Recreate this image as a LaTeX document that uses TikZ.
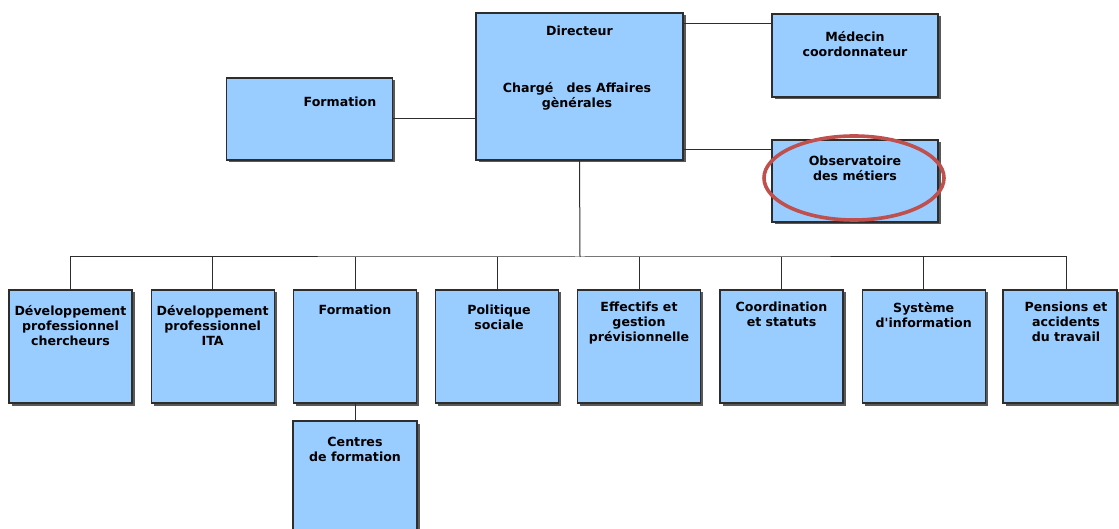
\documentclass[tikz,border=0pt]{standalone}
\usepackage{fontspec}
\setmainfont{DejaVu Sans}
\usetikzlibrary{shapes.geometric,shadows,calc}
\definecolor{boxfill}{RGB}{153,204,255}
\definecolor{boxline}{RGB}{45,45,45}
\definecolor{ringred}{RGB}{192,80,77}
\begin{document}
\begin{tikzpicture}[x=1pt,y=-1pt,
  orgbox/.style={draw=boxline, line width=1.3pt, fill=boxfill, rectangle, inner sep=0,
    drop shadow={shadow xshift=2.5pt, shadow yshift=-2.5pt, fill=black!65, opacity=1}},
  lowbox/.style={orgbox, minimum width=123pt, minimum height=113pt},
  txt/.style={font=\bfseries\fontsize{12.6}{15}\selectfont, align=center, inner sep=0, anchor=north, text=black},
  link/.style={draw=boxline, line width=1pt},
  ring/.style={draw=ringred, line width=3.6pt, ellipse, minimum width=180pt, minimum height=84pt, inner sep=0}]
\clip (0,0) rectangle (1119,529);
\fill[white] (0,0) rectangle (1119,529);

% top level
\node[orgbox, minimum width=207pt, minimum height=147pt] (dir) at (579.5,86.5) {};
\node[orgbox, minimum width=166pt, minimum height=82pt] (form) at (309.5,119) {};
\node[orgbox, minimum width=166pt, minimum height=83pt] (med) at (855,55.5) {};
\node[orgbox, minimum width=166pt, minimum height=82pt] (obs) at (855,181) {};

% bottom row
\node[lowbox] (b1) at (70.5,346.5) {};
\node[lowbox] (b2) at (212.7,346.5) {};
\node[lowbox] (b3) at (355,346.5) {};
\node[lowbox] (b4) at (497,346.5) {};
\node[lowbox] (b5) at (639,346.5) {};
\node[lowbox] (b6) at (781.5,346.5) {};
\node[lowbox] (b7) at (923.7,346.5) {};
\node[orgbox, minimum width=114pt, minimum height=113pt] (b8) at (1060,346.5) {};
\node[orgbox, minimum width=124pt, minimum height=130pt] (cen) at (355,486) {};

% connectors
\coordinate (bus) at (580,257);
\draw[link] ([yshift=-10pt]med.north west) -- ([yshift=-10pt]med.north west -| dir.east);
\draw[link] ([yshift=-10pt]obs.north west) -- ([yshift=-10pt]obs.north west -| dir.east);
\draw[link] (form.east) -- (form.east -| dir.west);
\draw[link] (dir.south) -- (bus);
\draw[link] (b1.north) |- (bus) -| (b8.north -| 1066,0);
\foreach \b in {b2,b3,b4,b5,b6,b7}{\draw[link] (\b.north) -- (\b.north |- bus);}
\draw[link] (b3.south) -- (cen.north);

% texts
\node[txt] (t-dir) at (579.5,26) {Directeur};
\node[txt] (t-chg) at (577,82) {Chargé\ \ \ des Affaires\\gènérales};
\node[txt] (t-form) at (340,97) {Formation};
\node[txt] (t-med) at (855,31) {Médecin\\coordonnateur};
\node[txt] (t-obs) at (855,156) {Observatoire\\des métiers};
\node[txt] (t1) at (70.5,305) {Développement\\professionnel\\chercheurs};
\node[txt] (t2) at (212.7,305) {Développement\\professionnel\\ITA};
\node[txt] (t3) at (355,305) {Formation};
\node[txt] (t4) at (499,305) {Politique\\sociale};
\node[txt] (t5) at (639,302) {Effectifs et\\gestion\\prévisionnelle};
\node[txt] (t6) at (781.5,302) {Coordination\\et statuts};
\node[txt] (t7) at (923.7,302) {Système\\d\textquotesingle information};
\node[txt] (t8) at (1066,302) {Pensions et\\accidents\\du travail};
\node[txt] (t-cen) at (355,437) {Centres\\de formation};

% highlight ring
\node[ring] (hl) at (854,178) {};
\end{tikzpicture}
\end{document}
